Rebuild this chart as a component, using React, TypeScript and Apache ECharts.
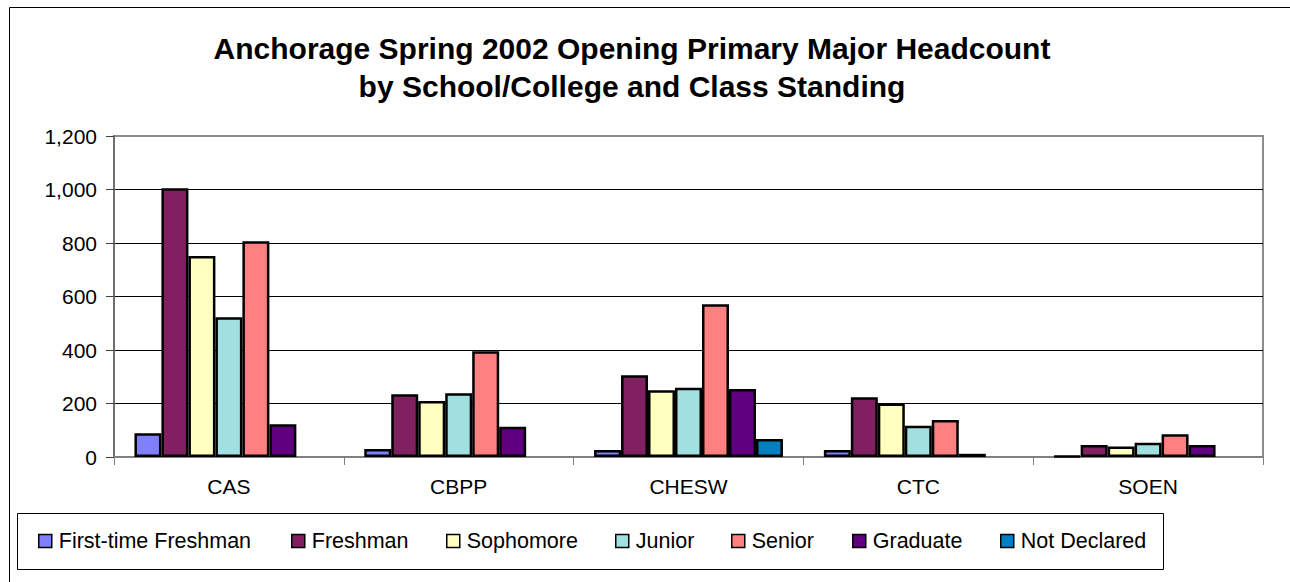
import React, { useEffect, useRef } from "react";
import * as echarts from "echarts";

const categories = ["CAS", "CBPP", "CHESW", "CTC", "SOEN"];
const seriesNames = [
  "First-time Freshman",
  "Freshman",
  "Sophomore",
  "Junior",
  "Senior",
  "Graduate",
  "Not Declared",
];
const firstTimeFreshman = [89, 30, 26, 26, 3];
const freshman = [1005, 235, 306, 223, 45];
const sophomore = [751, 209, 250, 200, 39];
const junior = [522, 238, 259, 117, 53];
const senior = [807, 395, 571, 138, 85];
const graduate = [122, 113, 254, 12, 45];
const notDeclared = [null, null, 67, null, null];
const seriesColors = ["#8080FF", "#802060", "#FFFFC0", "#A0E0E0", "#FF8080", "#600080", "#0080C0"];
const legendLefts = [38, 291, 446, 615, 731, 852, 1000];
const titleLines = [
  "Anchorage Spring 2002 Opening Primary Major Headcount",
  "by School/College and Class Standing",
];

const FONT = "'Liberation Sans', Arial, sans-serif";

export default function App() {
  const ref = useRef<HTMLDivElement>(null);
  useEffect(() => {
    if (!ref.current) return;
    const chart = echarts.init(ref.current, null, { renderer: "svg" });
    const allData = [firstTimeFreshman, freshman, sophomore, junior, senior, graduate, notDeclared];
    const option: any = {
      animation: false,
      backgroundColor: "#ffffff",
      textStyle: { fontFamily: FONT },
      grid: {
        left: 114,
        top: 136,
        right: 27,
        bottom: 125,
        show: true,
        borderColor: "#8c8c8c",
        borderWidth: 2,
        containLabel: false,
      },
      xAxis: {
        type: "category",
        data: categories,
        axisLine: { show: true, lineStyle: { color: "#808080", width: 2 } },
        axisTick: { show: true, length: 8, lineStyle: { color: "#808080", width: 1 } },
        axisLabel: { color: "#000", fontSize: 21, fontFamily: FONT, margin: 19 },
        splitLine: { show: false },
      },
      yAxis: {
        type: "value",
        min: 0,
        max: 1200,
        interval: 200,
        axisLine: { show: true, lineStyle: { color: "#707070", width: 2 } },
        axisTick: { show: true, length: 8, lineStyle: { color: "#404040", width: 1 } },
        axisLabel: {
          color: "#000",
          fontSize: 21,
          fontFamily: FONT,
          margin: 17,
          formatter: (v: number) => v.toLocaleString("en-US"),
        },
        splitLine: { show: true, showMinLine: false, showMaxLine: false, lineStyle: { color: "#000", width: 1 } },
      },
      legend: seriesNames.map((n, i) => ({
        data: [n],
        left: legendLefts[i],
        top: 530,
        itemWidth: 13,
        itemHeight: 13,
        icon: "rect",
        padding: 0,
        textStyle: { fontSize: 21.5, fontFamily: FONT, color: "#000", padding: [0, 0, 0, 2] },
        itemStyle: { borderColor: "#000", borderWidth: 1.5 },
        selectedMode: false,
      })),
      series: seriesNames.map((n, i) => ({
        name: n,
        type: "bar",
        data: allData[i],
        barGap: "0%",
        barCategoryGap: "17.8%",
        itemStyle: { color: seriesColors[i], borderColor: "#000", borderWidth: 2.5 },
      })),
      graphic: [
        {
          type: "rect",
          silent: true,
          shape: { x: 9.5, y: 7.5, width: 1400, height: 700 },
          style: { fill: "none", stroke: "#000", lineWidth: 1 },
          z: -10,
        },
        {
          type: "rect",
          silent: true,
          shape: { x: 17.5, y: 513.5, width: 1146, height: 56 },
          style: { fill: "none", stroke: "#000", lineWidth: 1 },
          z: -10,
        },
        {
          type: "text",
          silent: true,
          style: {
            text: titleLines.join("\n"),
            x: 632,
            y: 29,
            textAlign: "center",
            textVerticalAlign: "top",
            font: `bold 30px ${FONT}`,
            lineHeight: 38,
            fill: "#000",
          },
        },
      ],
    };
    chart.setOption(option);
    return () => chart.dispose();
  }, []);
  return (
    <div
      ref={ref}
      style={{ position: "absolute", left: 0, top: 0, width: 1290, height: 582 }}
    />
  );
}
